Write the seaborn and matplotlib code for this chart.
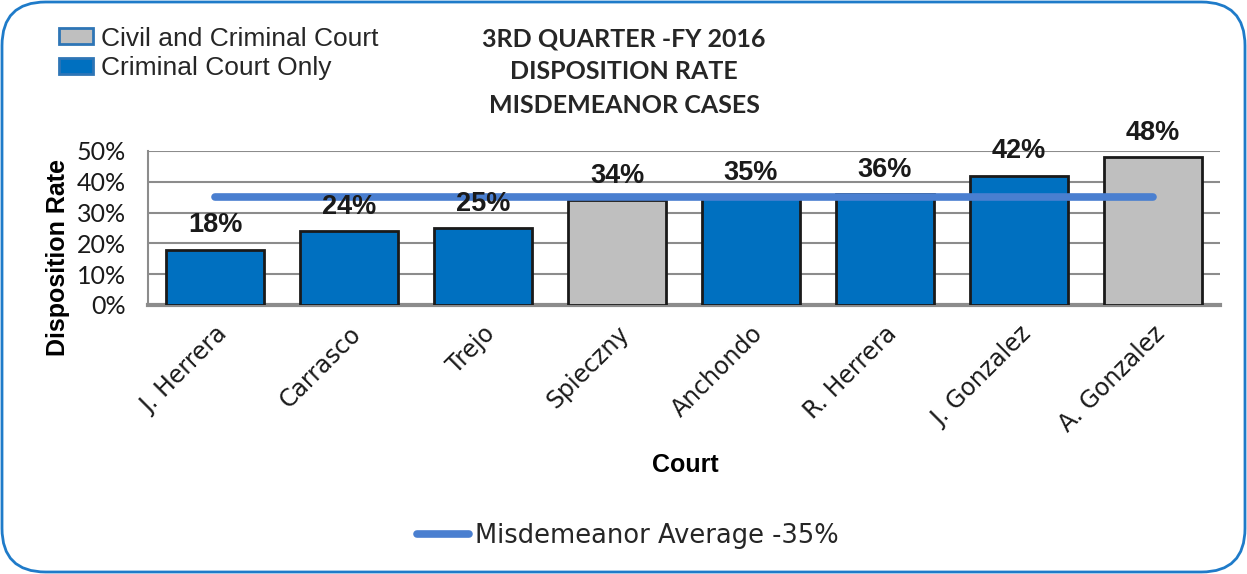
import numpy as np
import pandas as pd
import matplotlib
matplotlib.use("Agg")
import matplotlib.pyplot as plt
import seaborn as sns
from matplotlib.patches import Patch, FancyBboxPatch
from matplotlib.lines import Line2D
from matplotlib.ticker import PercentFormatter

# ---- data ----
courts = ["J. Herrera", "Carrasco", "Trejo", "Spieczny", "Anchondo",
          "R. Herrera", "J. Gonzalez", "A. Gonzalez"]
rates = [0.18, 0.24, 0.25, 0.34, 0.35, 0.36, 0.42, 0.48]
court_types = ["Criminal Court Only", "Criminal Court Only", "Criminal Court Only",
               "Civil and Criminal Court", "Criminal Court Only", "Criminal Court Only",
               "Criminal Court Only", "Civil and Criminal Court"]
average = 0.35
title = "3RD QUARTER -FY 2016\nDISPOSITION RATE\nMISDEMEANOR CASES"
avg_label = "Misdemeanor Average -35%"

df = pd.DataFrame({"Court": courts, "Rate": rates, "Type": court_types})

sns.set_theme(style="white")
plt.rcParams["font.family"] = ["Liberation Sans", "DejaVu Sans"]

BLUE = "#0070C0"
GRAY = "#BFBFBF"
palette = {"Criminal Court Only": BLUE, "Civil and Criminal Court": GRAY}

fig = plt.figure(figsize=(12.47, 5.74), dpi=100)
ax = fig.add_axes([148/1247, 1-305/574, (1220-148)/1247, (305-151)/574])

sns.barplot(data=df, x="Court", y="Rate", hue="Type", palette=palette,
            dodge=False, legend=False, width=0.73, edgecolor="#1a1a1a",
            linewidth=2, ax=ax, zorder=3, saturation=1)

ax.set_ylim(0, 0.5)
ax.set_xlim(-0.5, len(courts) - 0.5)
ax.set_yticks(np.arange(0, 0.51, 0.1))
ax.yaxis.set_major_formatter(PercentFormatter(1.0, decimals=0))
ax.grid(axis="y", color="#8c8c8c", linewidth=1.5, zorder=0)
ax.set_axisbelow(True)
for s in ["top", "right"]:
    ax.spines[s].set_visible(False)
ax.spines["left"].set_color("#8c8c8c")
ax.spines["left"].set_linewidth(1.5)
ax.spines["bottom"].set_color("#8c8c8c")
ax.spines["bottom"].set_linewidth(3)
ax.tick_params(axis="both", length=0)
ax.tick_params(axis="y", pad=16)

for lbl in ax.get_yticklabels():
    lbl.set_fontfamily(["Lato", "DejaVu Sans"])
    lbl.set_fontsize(18)
    lbl.set_color("#1a1a1a")

ax.set_xticks(range(len(courts)))
ax.set_xticklabels(courts, rotation=45, ha="right", rotation_mode="anchor",
                   fontsize=17, fontfamily="DejaVu Sans", color="#1a1a1a")
ax.tick_params(axis="x", pad=12)

ax.set_ylabel("Disposition Rate", fontsize=18, fontweight="bold", color="black")
ax.yaxis.set_label_coords((70-148)/1072, (305-258)/154)
ax.set_xlabel("Court", fontsize=18, fontweight="bold", color="black")
ax.xaxis.set_label_coords((685-148)/1072, (305-453)/154)

# average line
xs = np.arange(len(courts))
ax.plot(xs, [average] * len(courts), color="#4A7FD0", linewidth=5.5,
        solid_capstyle="round", zorder=4)

# data labels
for x, v in zip(xs, rates):
    ax.annotate(f"{v*100:.0f}%", (x, v), xytext=(0, 12.5), textcoords="offset points",
                ha="center", va="baseline", fontsize=19.5, fontweight="bold",
                color="#1a1a1a", zorder=5)

# title
fig.text(624/1247, 1-27/574, title, ha="center", va="top", fontsize=18,
         fontweight="bold", fontfamily=["Lato", "DejaVu Sans"], linespacing=1.55)

# top-left legend
handles = [Patch(facecolor=GRAY, edgecolor="#2E75B6", linewidth=2),
           Patch(facecolor=BLUE, edgecolor="#2E75B6", linewidth=2)]
fig.legend(handles, ["Civil and Criminal Court", "Criminal Court Only"],
           loc="upper left", bbox_to_anchor=(48/1247, 1-16/574), frameon=False,
           fontsize=19, handlelength=1.3, handleheight=0.55, handletextpad=0.3,
           labelspacing=0.22, borderaxespad=0)

# bottom legend
fig.legend([Line2D([0], [0], color="#4A7FD0", linewidth=5.5, solid_capstyle="round")],
           [avg_label], loc="center", bbox_to_anchor=(628/1247, 1-536/574),
           frameon=False, handlelength=2.0, handletextpad=0.25,
           prop={"family": "DejaVu Sans", "size": 18.5})

# frame
frame = FancyBboxPatch((2/1247, 2/574), 1243/1247, 570/574,
                       boxstyle="round,pad=0,rounding_size=0.035",
                       transform=fig.transFigure, facecolor="none",
                       edgecolor="#1F7BC9", linewidth=2, mutation_aspect=1247/574)
fig.patches.append(frame)

fig.savefig("out.png", dpi=100)
